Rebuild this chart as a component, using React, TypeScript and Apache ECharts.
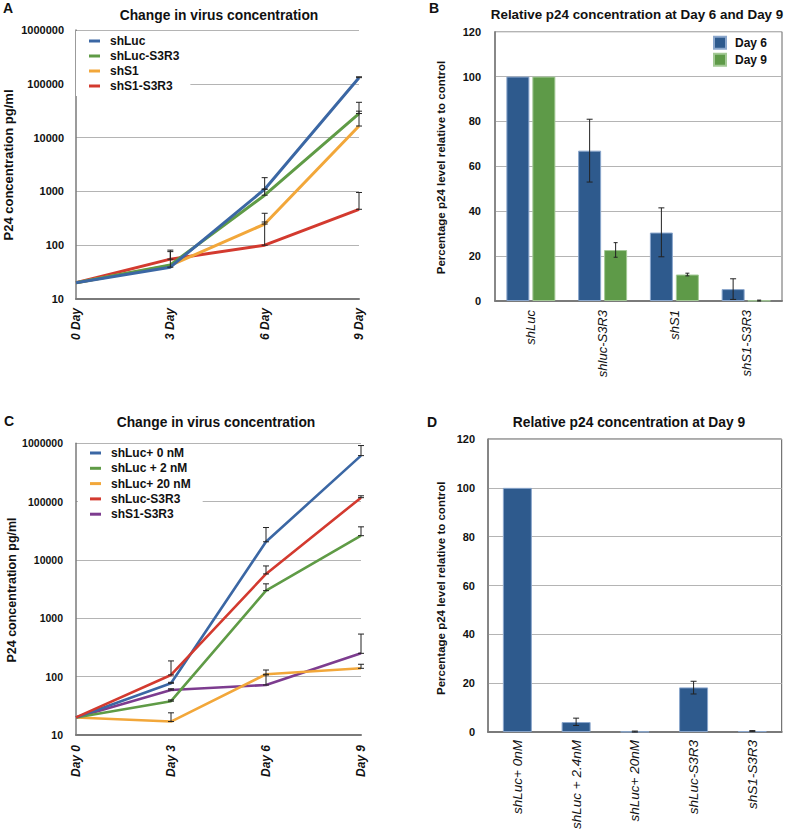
import React, { useEffect, useRef } from "react";
import * as echarts from "echarts";

// ---------- Panel A ----------
const daysA = ["0 Day", "3 Day", "6 Day", "9 Day"];
const namesA = ["shLuc", "shLuc-S3R3", "shS1", "shS1-S3R3"];
const colorsA = ["#3b67a4", "#5f9b46", "#f2a73a", "#d33a2f"];
const aShLuc = [20, 39, 1100, 130000];
const aShLucS3R3 = [20, 43, 850, 28000];
const aShS1 = [20, 42, 247, 16400];
const aShS1S3R3 = [20, 55, 100, 465];
const aShLucUp = [null, 81, 1800, 135000];
const aShLucS3R3Up = [null, null, 1100, 45300];
const aShS1Up = [null, null, 392, 31000];
const aShS1S3R3Up = [null, 76, 270, 955];

// ---------- Panel B ----------
const catsB = ["shLuc", "shluc-S3R3", "shS1", "shS1-S3R3"];
const namesB = ["Day 6", "Day 9"];
const bDay6 = [100, 67, 30.5, 5.3];
const bDay9 = [100, 22.7, 11.8, 0.2];
const bDay6Err = [null, [53, 81], [19.7, 41.5], [0.7, 9.9]];
const bDay9Err = [null, [19.5, 26], [11.2, 12.4], [0, 0.4]];

// ---------- Panel C ----------
const daysC = ["Day 0", "Day 3", "Day 6", "Day 9"];
const namesC = ["shLuc+ 0 nM", "shLuc + 2 nM", "shLuc+ 20 nM", "shLuc-S3R3", "shS1-S3R3"];
const colorsC = ["#3b67a4", "#5f9b46", "#f2a73a", "#d33a2f", "#7d3c8f"];
const c0nM = [20, 77, 20500, 615000];
const c2nM = [20, 38, 2980, 26100];
const c20nM = [20, 17, 110, 139];
const cShLucS3R3 = [20, 107, 5760, 117000];
const cShS1S3R3 = [20, 59, 72, 251];
const c0nMUp = [null, 80, 36000, 915000];
const c2nMUp = [null, 40, 3900, 37000];
const c20nMUp = [null, 24, 130, 163];
const cShLucS3R3Up = [null, 186, 7900, 126000];
const cShS1S3R3Up = [null, 62, 107, 537];

// ---------- Panel D ----------
const catsD = ["shLuc+ 0nM", "shLuc + 2.4nM", "shLuc+ 20nM", "shLuc-S3R3", "shS1-S3R3"];
const dValues = [100, 4.1, 0.2, 18.3, 0.4];
const dErr = [null, [2.7, 5.7], [0, 0.4], [15.6, 20.8], [0.2, 0.6]];

const FONT = "'Liberation Sans', Arial, Helvetica, sans-serif";
const GRID_LINE = "#b4b4b4";
const AXIS_LINE = "#7a7a7a";
const BAR_BLUE = "#2e5a8d";
const BAR_GREEN = "#5e9a48";

function upperToErr(vals: number[], ups: (number | null)[]) {
  const out: number[][] = [];
  ups.forEach((u, i) => {
    if (u != null) out.push([i, vals[i], u]);
  });
  return out;
}
function rangeToErr(r: (number[] | null)[]) {
  const out: number[][] = [];
  r.forEach((v, i) => {
    if (v) out.push([i, v[0], v[1]]);
  });
  return out;
}

function errSeries(xi: number, yi: number, data: number[][], offset: number, capW: number) {
  return {
    type: "custom",
    xAxisIndex: xi,
    yAxisIndex: yi,
    data,
    z: 10,
    silent: true,
    encode: { x: 0, y: [1, 2] },
    renderItem: (params: any, api: any) => {
      const x = api.value(0);
      const lo = api.coord([x, api.value(1)]);
      const hi = api.coord([x, api.value(2)]);
      const cx = lo[0] + offset;
      const st = { stroke: "#222", lineWidth: 1 };
      return {
        type: "group",
        children: [
          { type: "line", shape: { x1: cx, y1: lo[1], x2: cx, y2: hi[1] }, style: st },
          { type: "line", shape: { x1: cx - capW, y1: hi[1], x2: cx + capW, y2: hi[1] }, style: st },
          { type: "line", shape: { x1: cx - capW, y1: lo[1], x2: cx + capW, y2: lo[1] }, style: st },
        ],
      };
    },
  };
}

function lineSeries(name: string, data: number[], color: string, xi: number, yi: number, width: number) {
  return {
    type: "line",
    name,
    data,
    xAxisIndex: xi,
    yAxisIndex: yi,
    symbol: "none",
    lineStyle: { color, width },
    itemStyle: { color },
    z: 3,
  };
}

const logFmt = (v: number) => String(Math.round(v));

export default function App() {
  const ref = useRef<HTMLDivElement>(null);
  useEffect(() => {
    if (!ref.current) return;
    const chart = echarts.init(ref.current, undefined, { renderer: "svg" });

    const titleStyle = (size: number) => ({ fontFamily: FONT, fontSize: size, fontWeight: "bold", color: "#111" });
    const letterStyle = { fontFamily: FONT, fontSize: 14, fontWeight: "bold", fill: "#111" };
    const yNameStyle = (size: number) => ({
      fontFamily: FONT,
      fontSize: size,
      fontWeight: "bold",
      fill: "#111",
      textAlign: "center",
      textVerticalAlign: "middle",
    });

    const logY = (gi: number, margin: number, size: number) => ({
      type: "log",
      gridIndex: gi,
      logBase: 10,
      min: 10,
      max: 1000000,
      axisLine: { show: true, lineStyle: { color: AXIS_LINE, width: 1.5 } },
      axisTick: { show: false },
      splitLine: { show: true, lineStyle: { color: GRID_LINE, width: 1 } },
      minorSplitLine: { show: false },
      axisLabel: {
        formatter: logFmt,
        margin,
        fontFamily: FONT,
        fontSize: size,
        fontWeight: "bold",
        color: "#111",
      },
    });
    const valY = (gi: number, margin: number) => ({
      type: "value",
      gridIndex: gi,
      min: 0,
      max: 120,
      interval: 20,
      axisLine: { show: true, lineStyle: { color: AXIS_LINE, width: 1.5 } },
      axisTick: { show: false },
      splitLine: { show: true, lineStyle: { color: GRID_LINE, width: 1 } },
      axisLabel: { margin, fontFamily: FONT, fontSize: 11, fontWeight: "bold", color: "#111" },
    });
    const catX = (gi: number, data: string[], bg: boolean, margin: number, size: number, weight: string) => ({
      type: "category",
      gridIndex: gi,
      data,
      boundaryGap: bg,
      axisLine: { show: true, lineStyle: { color: AXIS_LINE, width: 2 } },
      axisTick: { show: false },
      axisLabel: {
        rotate: 90,
        margin,
        interval: 0,
        fontFamily: FONT,
        fontSize: size,
        fontStyle: "italic",
        fontWeight: weight,
        color: "#111",
      },
    });

    const option: any = {
      animation: false,
      backgroundColor: "#fff",
      title: [
        { text: "Change in virus concentration", left: 214, top: 3, textAlign: "center", textStyle: titleStyle(13.8) },
        { text: "Relative p24 concentration at Day 6 and Day 9", left: 632, top: 3, textAlign: "center", textStyle: titleStyle(13.4) },
        { text: "Change in virus concentration", left: 211, top: 410, textAlign: "center", textStyle: titleStyle(13.8) },
        { text: "Relative p24 concentration at Day 9", left: 624, top: 410, textAlign: "center", textStyle: titleStyle(13.8) },
      ],
      grid: [
        { left: 76, top: 30, width: 283, height: 269, show: false },
        { left: 495, top: 31.7, width: 287, height: 269.3, show: true, borderColor: "#666", borderWidth: 1, backgroundColor: "transparent" },
        { left: 76, top: 443.3, width: 285, height: 291.7, show: false },
        { left: 488, top: 439, width: 293.7, height: 294.3, show: true, borderColor: "#555", borderWidth: 1, backgroundColor: "transparent" },
      ],
      legend: [
        {
          orient: "vertical",
          left: 76,
          top: 31,
          backgroundColor: "#fff",
          padding: [4, 11, 4, 13],
          icon: "rect",
          itemWidth: 11,
          itemHeight: 3,
          itemGap: 3,
          textStyle: { fontFamily: FONT, fontSize: 12, fontWeight: "bold", color: "#111", padding: [0, 0, 0, 5] },
          data: namesA.map((n, i) => ({ name: n, itemStyle: { color: colorsA[i] } })),
        },
        {
          orient: "vertical",
          left: 713,
          top: 35.7,
          padding: 0,
          icon: "rect",
          itemWidth: 12,
          itemHeight: 12,
          itemGap: 3,
          textStyle: { fontFamily: FONT, fontSize: 12, fontWeight: "bold", color: "#111", padding: [0, 0, 0, 4] },
          data: [
            { name: namesB[0], itemStyle: { color: BAR_BLUE } },
            { name: namesB[1], itemStyle: { color: BAR_GREEN } },
          ],
        },
        {
          orient: "vertical",
          left: 78,
          top: 444,
          backgroundColor: "#fff",
          padding: [3, 12, 4, 12],
          icon: "rect",
          itemWidth: 11,
          itemHeight: 3,
          itemGap: 3.3,
          textStyle: { fontFamily: FONT, fontSize: 12, fontWeight: "bold", color: "#111", padding: [0, 0, 0, 5] },
          data: namesC.map((n, i) => ({ name: n, itemStyle: { color: colorsC[i] } })),
        },
      ],
      xAxis: [
        catX(0, daysA, false, 9, 12, "bold"),
        catX(1, catsB, true, 9, 13, "normal"),
        catX(2, daysC, false, 10, 12, "bold"),
        catX(3, catsD, true, 8, 13.5, "normal"),
      ],
      yAxis: [logY(0, 12, 11), valY(1, 14), logY(2, 13, 10.5), valY(3, 13)],
      graphic: [
        { type: "text", left: 3, top: 1, style: { text: "A", ...letterStyle } },
        { type: "text", left: 429, top: 1, style: { text: "B", ...letterStyle } },
        { type: "text", left: 4, top: 414, style: { text: "C", ...letterStyle } },
        { type: "text", left: 427, top: 415, style: { text: "D", ...letterStyle } },
        { type: "text", x: 8, y: 165, rotation: Math.PI / 2, style: { text: "P24 concentration pg/ml", ...yNameStyle(13) } },
        { type: "text", x: 441.3, y: 167.5, rotation: Math.PI / 2, style: { text: "Percentage p24 level relative to control", ...yNameStyle(11.5) } },
        { type: "text", x: 11.7, y: 590, rotation: Math.PI / 2, style: { text: "P24 concentration pg/ml", ...yNameStyle(12.5) } },
        { type: "text", x: 441.3, y: 588.3, rotation: Math.PI / 2, style: { text: "Percentage p24 level relative to control", ...yNameStyle(11.5) } },
      ],
      series: [
        // Panel A (drawn bottom to top)
        lineSeries(namesA[3], aShS1S3R3, colorsA[3], 0, 0, 3),
        lineSeries(namesA[2], aShS1, colorsA[2], 0, 0, 3),
        lineSeries(namesA[1], aShLucS3R3, colorsA[1], 0, 0, 3),
        lineSeries(namesA[0], aShLuc, colorsA[0], 0, 0, 3),
        errSeries(0, 0, upperToErr(aShLuc, aShLucUp), 0, 3),
        errSeries(0, 0, upperToErr(aShLucS3R3, aShLucS3R3Up), 0, 3),
        errSeries(0, 0, upperToErr(aShS1, aShS1Up), 0, 3),
        errSeries(0, 0, upperToErr(aShS1S3R3, aShS1S3R3Up), 0, 3),
        // Panel B
        {
          type: "bar",
          name: namesB[0],
          data: bDay6,
          xAxisIndex: 1,
          yAxisIndex: 1,
          barWidth: 23,
          barGap: "13%",
          itemStyle: { color: BAR_BLUE, borderColor: "#8aa6cc", borderWidth: 1 },
        },
        {
          type: "bar",
          name: namesB[1],
          data: bDay9,
          xAxisIndex: 1,
          yAxisIndex: 1,
          barWidth: 23,
          barGap: "13%",
          itemStyle: { color: BAR_GREEN, borderColor: "#a3c995", borderWidth: 1 },
        },
        errSeries(1, 1, rangeToErr(bDay6Err), -13, 3),
        errSeries(1, 1, rangeToErr(bDay9Err), 13, 2),
        // Panel C
        lineSeries(namesC[4], cShS1S3R3, colorsC[4], 2, 2, 2.6),
        lineSeries(namesC[2], c20nM, colorsC[2], 2, 2, 2.6),
        lineSeries(namesC[1], c2nM, colorsC[1], 2, 2, 2.6),
        lineSeries(namesC[0], c0nM, colorsC[0], 2, 2, 2.6),
        lineSeries(namesC[3], cShLucS3R3, colorsC[3], 2, 2, 2.6),
        errSeries(2, 2, upperToErr(c0nM, c0nMUp), 0, 3),
        errSeries(2, 2, upperToErr(c2nM, c2nMUp), 0, 3),
        errSeries(2, 2, upperToErr(c20nM, c20nMUp), 0, 3),
        errSeries(2, 2, upperToErr(cShLucS3R3, cShLucS3R3Up), 0, 3),
        errSeries(2, 2, upperToErr(cShS1S3R3, cShS1S3R3Up), 0, 3),
        // Panel D
        {
          type: "bar",
          name: "Day 9 relative",
          data: dValues,
          xAxisIndex: 3,
          yAxisIndex: 3,
          barWidth: 29,
          itemStyle: { color: BAR_BLUE, borderColor: "#8aa6cc", borderWidth: 1 },
        },
        errSeries(3, 3, rangeToErr(dErr), 0, 3),
      ],
    };
    chart.setOption(option);
    return () => chart.dispose();
  }, []);
  return <div ref={ref} style={{ position: "absolute", left: 0, top: 0, width: 787, height: 832 }} />;
}
